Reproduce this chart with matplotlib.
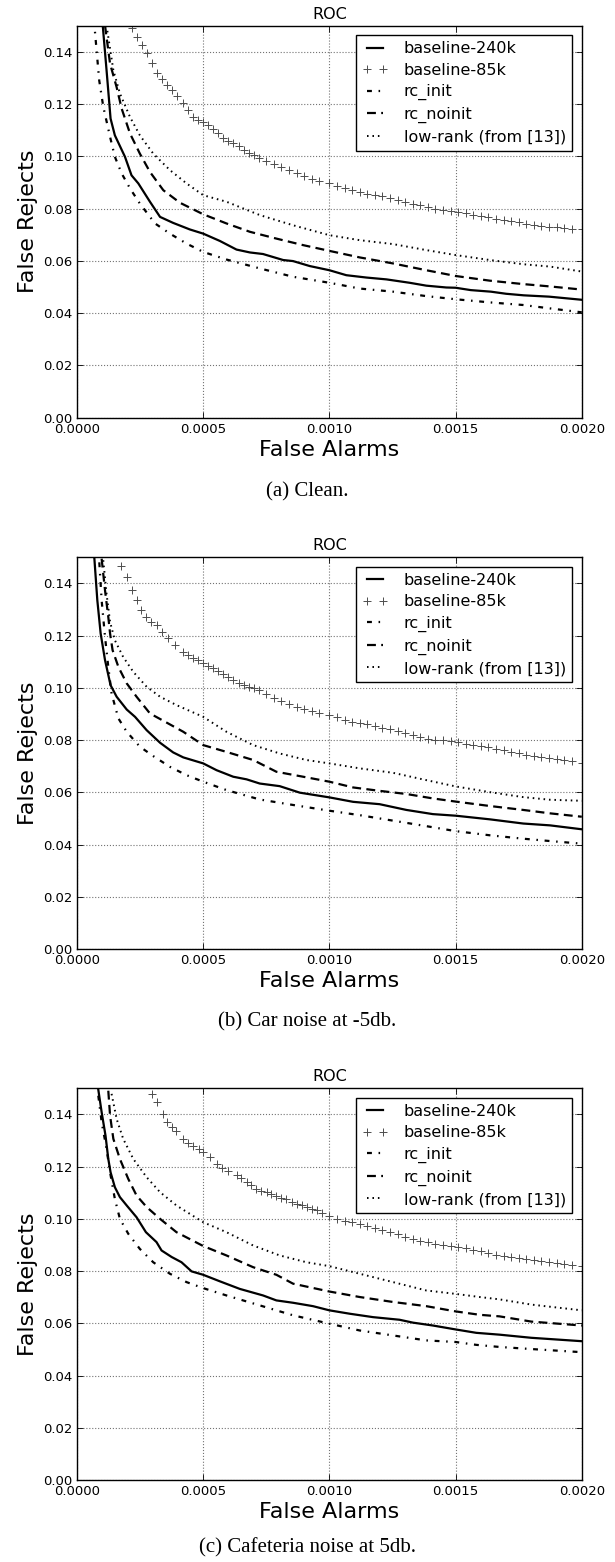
import matplotlib
matplotlib.use('Agg')
import matplotlib.pyplot as plt
from matplotlib.ticker import FormatStrFormatter

# ---- panel (a) clean ----
a_240k_x = [0.000102, 0.000117, 0.000133, 0.00015, 0.00019, 0.000216, 0.000243, 0.000289, 0.000329, 0.000381,
            0.000447, 0.0005, 0.000566, 0.000632, 0.000685, 0.000737, 0.000817, 0.000856, 0.000922, 0.001,
            0.001067, 0.001147, 0.001226, 0.001318, 0.001384, 0.001463, 0.0015, 0.00156, 0.00164, 0.0017,
            0.00177, 0.00187, 0.002]
a_240k_y = [0.15, 0.133, 0.1144, 0.108, 0.0998, 0.0927, 0.0896, 0.0826, 0.0768, 0.0745,
            0.072, 0.0704, 0.0676, 0.0643, 0.0632, 0.0626, 0.0603, 0.0599, 0.058, 0.0564,
            0.0545, 0.0536, 0.0529, 0.0516, 0.0505, 0.0498, 0.0497, 0.0488, 0.0482, 0.0474,
            0.0468, 0.0463, 0.0451]
a_85k_x = [0.000216, 0.000236, 0.000256, 0.000276, 0.000299, 0.000318, 0.000335, 0.000355, 0.000375, 0.000397,
           0.000421, 0.00044, 0.00046, 0.00048, 0.0005, 0.00052, 0.00054, 0.00056, 0.000579, 0.0006,
           0.00062, 0.00064, 0.00066, 0.00068, 0.0007, 0.00072, 0.00075, 0.00078, 0.00081, 0.00084,
           0.00087, 0.0009, 0.00093, 0.00096, 0.001, 0.00103, 0.00106, 0.00109, 0.00112, 0.00115,
           0.00118, 0.00121, 0.00124, 0.00127, 0.0013, 0.00133, 0.00136, 0.00139, 0.00142, 0.00145,
           0.00148, 0.00151, 0.00154, 0.00157, 0.0016, 0.00163, 0.00166, 0.00169, 0.00172, 0.00175,
           0.00178, 0.00181, 0.00184, 0.00187, 0.0019, 0.00193, 0.00196, 0.002]
a_85k_y = [0.1492, 0.1456, 0.1424, 0.1396, 0.1357, 0.132, 0.1297, 0.1271, 0.1252, 0.1229,
           0.1204, 0.1175, 0.115, 0.114, 0.1131, 0.112, 0.1106, 0.109, 0.1068, 0.1058,
           0.105, 0.1038, 0.1025, 0.1014, 0.1003, 0.0993, 0.098, 0.097, 0.0958, 0.0947,
           0.0935, 0.0924, 0.0913, 0.0905, 0.0896, 0.0885, 0.0877, 0.0869, 0.0862, 0.0856,
           0.0851, 0.0847, 0.0842, 0.0834, 0.0826, 0.0819, 0.0812, 0.0805, 0.0799, 0.0794,
           0.079, 0.0786, 0.0781, 0.0776, 0.0771, 0.0766, 0.0761, 0.0757, 0.0752, 0.0747,
           0.0742, 0.0738, 0.0735, 0.0731, 0.0728, 0.0725, 0.0723, 0.072]
a_init_x = [0.000068, 0.0000712, 0.000088, 0.000104, 0.000131, 0.00015, 0.000177, 0.00021, 0.000249, 0.000309,
            0.000368, 0.000434, 0.0005, 0.000592, 0.000724, 0.000856, 0.001, 0.00112, 0.001252, 0.001384,
            0.0015, 0.001636, 0.001768, 0.001874, 0.002]
a_init_y = [0.152, 0.1476, 0.129, 0.119, 0.1074, 0.0998, 0.0934, 0.0877, 0.0819, 0.0743,
            0.0704, 0.0666, 0.0634, 0.0605, 0.0571, 0.0539, 0.0516, 0.0494, 0.0482, 0.0465,
            0.0453, 0.0441, 0.0431, 0.0418, 0.0403]
a_noinit_x = [0.000111, 0.000131, 0.000157, 0.000177, 0.00021, 0.000249, 0.000289, 0.000342, 0.000408, 0.0005,
              0.000592, 0.000685, 0.00079, 0.000896, 0.001, 0.00112, 0.001252, 0.001384, 0.0015, 0.001636,
              0.001768, 0.001874, 0.002]
a_noinit_y = [0.15, 0.1354, 0.1264, 0.1182, 0.1087, 0.101, 0.094, 0.087, 0.0822, 0.0778,
              0.0743, 0.0711, 0.0685, 0.066, 0.0638, 0.0613, 0.059, 0.0564, 0.0542, 0.0524,
              0.0511, 0.0502, 0.049]
a_lowrank_x = [0.000117, 0.000144, 0.00017, 0.00021, 0.000249, 0.000302, 0.000368, 0.000434, 0.0005, 0.000592,
               0.000724, 0.000856, 0.001, 0.00112, 0.001252, 0.001384, 0.0015, 0.001636, 0.001768, 0.001874,
               0.002]
a_lowrank_y = [0.15, 0.1329, 0.124, 0.115, 0.108, 0.101, 0.0947, 0.0896, 0.0851, 0.0826,
               0.0775, 0.0736, 0.0698, 0.0679, 0.0664, 0.0641, 0.0622, 0.0603, 0.0587, 0.0578,
               0.0559]

# ---- panel (b) car noise ----
b_240k_x = [0.0000686, 0.0000805, 0.0000937, 0.000111, 0.000133, 0.000157, 0.000197, 0.00023, 0.000276, 0.000329,
            0.000381, 0.000421, 0.0005, 0.000553, 0.000619, 0.000672, 0.000724, 0.000803, 0.000883, 0.001,
            0.001094, 0.001199, 0.001305, 0.00141, 0.0015, 0.001636, 0.001768, 0.001874, 0.002]
b_240k_y = [0.1498, 0.1335, 0.1208, 0.1106, 0.101, 0.0966, 0.0917, 0.0889, 0.0838, 0.079,
            0.0753, 0.0734, 0.0711, 0.0685, 0.066, 0.065, 0.0634, 0.0624, 0.0599, 0.0581,
            0.0564, 0.0555, 0.0533, 0.0517, 0.0511, 0.0497, 0.0481, 0.0474, 0.0459]
b_85k_x = [0.000173, 0.000197, 0.000216, 0.000236, 0.000253, 0.000273, 0.000292, 0.000315, 0.000335, 0.000361,
           0.000388, 0.000421, 0.00044, 0.00046, 0.00048, 0.0005, 0.00052, 0.00054, 0.00056, 0.00058,
           0.0006, 0.00062, 0.00064, 0.00066, 0.00068, 0.0007, 0.00072, 0.00075, 0.00078, 0.00081,
           0.00084, 0.00087, 0.0009, 0.00093, 0.00096, 0.001, 0.00103, 0.00106, 0.00109, 0.00112,
           0.00115, 0.00118, 0.00121, 0.00124, 0.00127, 0.0013, 0.00133, 0.00136, 0.00139, 0.00142,
           0.00145, 0.00148, 0.00151, 0.00154, 0.00157, 0.0016, 0.00163, 0.00166, 0.00169, 0.00172,
           0.00175, 0.00178, 0.00181, 0.00184, 0.00187, 0.0019, 0.00193, 0.00196, 0.002]
b_85k_y = [0.1465, 0.1422, 0.1376, 0.1335, 0.1299, 0.1271, 0.1252, 0.124, 0.1214, 0.1189,
           0.1163, 0.1138, 0.1127, 0.1116, 0.1106, 0.1096, 0.1085, 0.1074, 0.1063, 0.1051,
           0.1041, 0.1031, 0.102, 0.1012, 0.1005, 0.1001, 0.099, 0.0977, 0.0962, 0.095,
           0.094, 0.0928, 0.0918, 0.091, 0.0903, 0.0896, 0.0887, 0.0878, 0.087, 0.0866,
           0.086, 0.0855, 0.0848, 0.0842, 0.0836, 0.0829, 0.0821, 0.0812, 0.0803, 0.0801,
           0.0799, 0.0797, 0.0793, 0.0787, 0.0781, 0.0777, 0.0772, 0.0767, 0.0762, 0.0755,
           0.0749, 0.0745, 0.0741, 0.0737, 0.0733, 0.0729, 0.0724, 0.072, 0.0714]
b_init_x = [0.0000884, 0.0000976, 0.000111, 0.000124, 0.000137, 0.000164, 0.000197, 0.000249, 0.000302, 0.000368,
            0.000434, 0.0005, 0.000592, 0.000724, 0.000856, 0.001, 0.00112, 0.001252, 0.001384, 0.0015,
            0.001636, 0.001768, 0.001874, 0.002]
b_init_y = [0.148, 0.1335, 0.1195, 0.108, 0.0978, 0.0883, 0.0832, 0.0775, 0.0739, 0.0698,
            0.0666, 0.0641, 0.0609, 0.0573, 0.0552, 0.053, 0.0513, 0.0492, 0.0471, 0.0452,
            0.0436, 0.0423, 0.0414, 0.0404]
b_noinit_x = [0.0000976, 0.000111, 0.000124, 0.000131, 0.000141, 0.000164, 0.000197, 0.000236, 0.000289, 0.000342,
              0.000421, 0.0005, 0.000592, 0.000698, 0.00079, 0.000896, 0.001, 0.001094, 0.001199, 0.001305,
              0.00141, 0.0015, 0.001636, 0.001768, 0.001874, 0.002]
b_noinit_y = [0.1494, 0.1373, 0.1271, 0.1208, 0.1144, 0.108, 0.1017, 0.0966, 0.0902, 0.0874,
              0.0832, 0.0781, 0.0755, 0.0724, 0.0679, 0.066, 0.0641, 0.0619, 0.0606, 0.0594,
              0.0577, 0.0565, 0.0548, 0.0533, 0.052, 0.0507]
b_lowrank_x = [0.000104, 0.000117, 0.000131, 0.00015, 0.000183, 0.000223, 0.000276, 0.000329, 0.000394, 0.0005,
               0.000592, 0.000698, 0.000803, 0.000909, 0.001, 0.00112, 0.001252, 0.001384, 0.0015, 0.001636,
               0.001768, 0.001874, 0.002]
b_lowrank_y = [0.1488, 0.136, 0.1252, 0.1182, 0.1118, 0.1061, 0.1004, 0.0966, 0.0934, 0.0889,
               0.0832, 0.0781, 0.0749, 0.0724, 0.0711, 0.0692, 0.0675, 0.0647, 0.0623, 0.0601,
               0.0582, 0.0572, 0.0568]

# ---- panel (c) cafeteria noise ----
c_240k_x = [0.0000844, 0.0000976, 0.000113, 0.000124, 0.000133, 0.00015, 0.00017, 0.000197, 0.000236, 0.000273,
            0.000315, 0.000335, 0.000375, 0.000414, 0.000454, 0.0005, 0.000566, 0.000645, 0.000737, 0.00079,
            0.000856, 0.000935, 0.001, 0.001081, 0.001173, 0.001278, 0.001331, 0.00141, 0.0015, 0.001582,
            0.001674, 0.0018, 0.002]
c_240k_y = [0.1494, 0.1408, 0.1318, 0.1229, 0.1178, 0.1121, 0.1083, 0.1051, 0.1006, 0.0949,
            0.0911, 0.0879, 0.0854, 0.0834, 0.0799, 0.0786, 0.0761, 0.0732, 0.0707, 0.0688,
            0.0679, 0.0666, 0.065, 0.0637, 0.0624, 0.0614, 0.0603, 0.0592, 0.0577, 0.0564,
            0.0557, 0.0545, 0.0532]
c_85k_x = [0.000299, 0.000318, 0.000339, 0.000355, 0.000375, 0.000394, 0.000418, 0.000441, 0.00046, 0.000484,
           0.0005, 0.000526, 0.000553, 0.000575, 0.0006, 0.000632, 0.00065, 0.000672, 0.00069, 0.000711,
           0.00073, 0.000751, 0.00077, 0.00079, 0.00081, 0.00083, 0.00085, 0.00087, 0.00089, 0.00091,
           0.00093, 0.00095, 0.00097, 0.001, 0.00103, 0.00106, 0.00109, 0.00112, 0.00115, 0.00118,
           0.00121, 0.00124, 0.00127, 0.0013, 0.00133, 0.00136, 0.00139, 0.00142, 0.00145, 0.00148,
           0.00151, 0.00154, 0.00157, 0.0016, 0.00163, 0.00166, 0.00169, 0.00172, 0.00175, 0.00178,
           0.00181, 0.00184, 0.00187, 0.0019, 0.00193, 0.00196, 0.002]
c_85k_y = [0.1478, 0.1446, 0.1401, 0.1372, 0.135, 0.1335, 0.1306, 0.1289, 0.128, 0.1268,
           0.1257, 0.1236, 0.121, 0.1196, 0.1182, 0.1166, 0.1155, 0.114, 0.1128, 0.1115,
           0.1108, 0.1102, 0.1094, 0.1087, 0.108, 0.1074, 0.1065, 0.1057, 0.1051, 0.1045,
           0.1038, 0.1032, 0.1024, 0.101, 0.1001, 0.0993, 0.0987, 0.0981, 0.0972, 0.0965,
           0.0957, 0.095, 0.0942, 0.0932, 0.0922, 0.0916, 0.091, 0.0905, 0.0901, 0.0898,
           0.0894, 0.0888, 0.0882, 0.0876, 0.087, 0.0863, 0.0857, 0.0853, 0.0849, 0.0846,
           0.0842, 0.0838, 0.0834, 0.083, 0.0827, 0.0823, 0.0819]
c_init_x = [0.0000844, 0.0000976, 0.000117, 0.000131, 0.00015, 0.00017, 0.000203, 0.000249, 0.000302, 0.000368,
            0.000434, 0.0005, 0.000592, 0.000724, 0.000856, 0.001, 0.00112, 0.001252, 0.001384, 0.0015,
            0.001582, 0.001674, 0.0018, 0.002]
c_init_y = [0.1471, 0.137, 0.1268, 0.1178, 0.1076, 0.1, 0.0943, 0.0885, 0.0834, 0.079,
            0.0758, 0.0735, 0.0707, 0.0669, 0.0631, 0.0599, 0.0573, 0.0554, 0.0535, 0.0529,
            0.0518, 0.051, 0.0502, 0.049]
c_noinit_x = [0.000124, 0.000131, 0.000144, 0.00017, 0.000203, 0.000236, 0.000276, 0.000329, 0.000394, 0.0005,
              0.000592, 0.000698, 0.00079, 0.000856, 0.001, 0.00112, 0.001252, 0.001384, 0.0015, 0.001595,
              0.001674, 0.0018, 0.002]
c_noinit_y = [0.149, 0.1395, 0.1306, 0.1229, 0.1153, 0.1089, 0.1045, 0.1, 0.0949, 0.0896,
              0.086, 0.0815, 0.0786, 0.0752, 0.0722, 0.0701, 0.0682, 0.0666, 0.0646, 0.0633,
              0.0627, 0.0607, 0.0592]
c_lowrank_x = [0.000137, 0.000157, 0.000183, 0.000223, 0.000276, 0.000329, 0.000394, 0.0005, 0.000592, 0.000698,
               0.000803, 0.000909, 0.001, 0.00112, 0.001252, 0.001384, 0.0015, 0.001595, 0.001674, 0.0018,
               0.002]
c_lowrank_y = [0.1478, 0.1382, 0.1306, 0.1229, 0.1159, 0.1102, 0.1051, 0.0987, 0.0949, 0.0898,
               0.086, 0.0834, 0.0819, 0.079, 0.0758, 0.0726, 0.0713, 0.0701, 0.0692, 0.0672,
               0.065]

labels = ['baseline-240k', 'baseline-85k', 'rc_init', 'rc_noinit', 'low-rank (from [13])']
captions = ['(a) Clean.', '(b) Car noise at -5db.', '(c) Cafeteria noise at 5db.']
x_ticks = [0.0, 0.0005, 0.001, 0.0015, 0.002]
y_ticks = [0.0, 0.02, 0.04, 0.06, 0.08, 0.10, 0.12, 0.14]

panels = [
    (a_240k_x, a_240k_y, a_85k_x, a_85k_y, a_init_x, a_init_y, a_noinit_x, a_noinit_y, a_lowrank_x, a_lowrank_y),
    (b_240k_x, b_240k_y, b_85k_x, b_85k_y, b_init_x, b_init_y, b_noinit_x, b_noinit_y, b_lowrank_x, b_lowrank_y),
    (c_240k_x, c_240k_y, c_85k_x, c_85k_y, c_init_x, c_init_y, c_noinit_x, c_noinit_y, c_lowrank_x, c_lowrank_y),
]

W, H = 615, 1562
fig = plt.figure(figsize=(W / 100, H / 100), dpi=100)

# axes boxes in pixels: top, bottom
boxes = [(25.5, 417.7), (557.1, 949.3), (1088.1, 1480.3)]
caption_y = [492, 1022, 1548]
left, right = 77, 581.8


def plot_roc(ax, d):
    x240, y240, x85, y85, xi, yi, xn, yn, xl, yl = d
    ax.plot(x240, y240, color='k', lw=1.6, label=labels[0])
    ax.plot(x85, y85, linestyle='none', marker='+', ms=6, mew=0.7, color='0.3', label=labels[1])
    ax.plot(xi, yi, color='k', lw=1.6, dashes=(2.2, 3.0, 0.7, 3.0), label=labels[2])
    ax.plot(xn, yn, color='k', lw=1.6, dashes=(4.0, 2.4), label=labels[3])
    ax.plot(xl, yl, color='k', lw=1.4, dashes=(0.8, 2.0), label=labels[4])

    ax.set_xlim(0, 0.002)
    ax.set_ylim(0, 0.15)
    ax.set_xticks(x_ticks)
    ax.set_yticks(y_ticks)
    ax.xaxis.set_major_formatter(FormatStrFormatter('%.4f'))
    ax.yaxis.set_major_formatter(FormatStrFormatter('%.2f'))
    ax.tick_params(direction='in', top=True, right=True, labelsize=9.5, length=4, width=0.6)
    ax.grid(True, linestyle=':', color='0.45', lw=0.8)
    for s in ax.spines.values():
        s.set_linewidth(1.0)
    ax.set_title('ROC', fontsize=11.5, pad=5)
    ax.set_xlabel('False Alarms', fontsize=16, labelpad=3)
    ax.set_ylabel('False Rejects', fontsize=16, labelpad=3)
    leg = ax.legend(loc='upper right', fontsize=11.5, numpoints=2, fancybox=False,
                    edgecolor='k', framealpha=1, handlelength=1.6, handletextpad=1.0,
                    borderaxespad=0.6, labelspacing=0.4)
    leg.get_frame().set_linewidth(1.0)


for i, d in enumerate(panels):
    top, bottom = boxes[i]
    ax = fig.add_axes([left / W, 1 - bottom / H, (right - left) / W, (bottom - top) / H])
    plot_roc(ax, d)
    fig.text(0.5, 1 - caption_y[i] / H, captions[i], ha='center', va='center',
             fontsize=15, family='Liberation Serif')

fig.savefig('out.png', dpi=100)
